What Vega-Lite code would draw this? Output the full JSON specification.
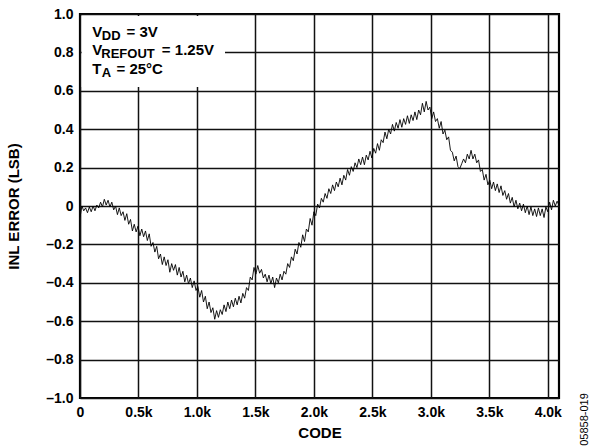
{
  "$schema": "https://vega.github.io/schema/vega-lite/v6.json",
  "width": 479,
  "height": 384,
  "autosize": {"type": "none"},
  "padding": {"left": 80, "top": 14, "right": 34, "bottom": 48},
  "background": "white",
  "config": {
    "view": {"stroke": "#000", "strokeWidth": 2.2},
    "font": "Liberation Sans"
  },
  "datasets": {
    "box": [{"c": 14, "c2": 1240, "v": 0.62, "v2": 0.99}],
    "notes": [
      {"c": 105, "v": 0.880, "t": "V", "k": "m"},
      {"c": 186, "v": 0.865, "t": "DD", "k": "s"},
      {"c": 398, "v": 0.880, "t": "= 3V", "k": "m"},
      {"c": 105, "v": 0.786, "t": "V", "k": "m"},
      {"c": 182, "v": 0.771, "t": "REFOUT", "k": "s"},
      {"c": 700, "v": 0.786, "t": "= 1.25V", "k": "m"},
      {"c": 105, "v": 0.690, "t": "T", "k": "m"},
      {"c": 186, "v": 0.674, "t": "A", "k": "s"},
      {"c": 312, "v": 0.690, "t": "= 25°C", "k": "m"}
    ],
    "ident": [{"c": 4318, "v": -1.112, "t": "05858-019"}],
    "inl": [
      {"c":0,"v":-0.06},{"c":16,"v":0.0},{"c":32,"v":-0.025},{"c":48,"v":-0.01},
      {"c":64,"v":-0.035},{"c":80,"v":-0.005},{"c":96,"v":-0.03},{"c":112,"v":0.0},
      {"c":128,"v":-0.025},{"c":144,"v":0.005},{"c":160,"v":-0.01},{"c":176,"v":0.02},
      {"c":192,"v":-0.005},{"c":208,"v":0.035},{"c":224,"v":0.005},{"c":240,"v":0.03},
      {"c":256,"v":-0.005},{"c":272,"v":0.02},{"c":288,"v":-0.02},{"c":304,"v":0.0},
      {"c":320,"v":-0.045},{"c":336,"v":-0.01},{"c":352,"v":-0.05},{"c":368,"v":-0.03},
      {"c":384,"v":-0.075},{"c":400,"v":-0.04},{"c":416,"v":-0.095},{"c":432,"v":-0.07},
      {"c":448,"v":-0.13},{"c":464,"v":-0.095},{"c":480,"v":-0.135},{"c":496,"v":-0.105},
      {"c":512,"v":-0.155},{"c":528,"v":-0.12},{"c":544,"v":-0.16},{"c":560,"v":-0.13},
      {"c":576,"v":-0.18},{"c":592,"v":-0.145},{"c":608,"v":-0.21},{"c":624,"v":-0.19},
      {"c":640,"v":-0.24},{"c":656,"v":-0.21},{"c":672,"v":-0.275},{"c":688,"v":-0.25},
      {"c":704,"v":-0.305},{"c":720,"v":-0.265},{"c":736,"v":-0.31},{"c":752,"v":-0.28},
      {"c":768,"v":-0.345},{"c":784,"v":-0.3},{"c":800,"v":-0.335},{"c":816,"v":-0.305},
      {"c":832,"v":-0.36},{"c":848,"v":-0.32},{"c":864,"v":-0.37},{"c":880,"v":-0.34},
      {"c":896,"v":-0.395},{"c":912,"v":-0.36},{"c":928,"v":-0.405},{"c":944,"v":-0.375},
      {"c":960,"v":-0.425},{"c":976,"v":-0.39},{"c":992,"v":-0.44},{"c":1008,"v":-0.42},
      {"c":1024,"v":-0.475},{"c":1040,"v":-0.44},{"c":1056,"v":-0.5},{"c":1072,"v":-0.47},
      {"c":1088,"v":-0.535},{"c":1104,"v":-0.5},{"c":1120,"v":-0.555},{"c":1136,"v":-0.53},
      {"c":1152,"v":-0.59},{"c":1168,"v":-0.545},{"c":1184,"v":-0.58},{"c":1200,"v":-0.54},
      {"c":1216,"v":-0.565},{"c":1232,"v":-0.515},{"c":1248,"v":-0.55},{"c":1264,"v":-0.5},
      {"c":1280,"v":-0.535},{"c":1296,"v":-0.49},{"c":1312,"v":-0.525},{"c":1328,"v":-0.48},
      {"c":1344,"v":-0.515},{"c":1360,"v":-0.47},{"c":1376,"v":-0.505},{"c":1392,"v":-0.455},
      {"c":1408,"v":-0.48},{"c":1424,"v":-0.425},{"c":1440,"v":-0.44},{"c":1456,"v":-0.37},
      {"c":1472,"v":-0.385},{"c":1488,"v":-0.32},{"c":1504,"v":-0.355},{"c":1520,"v":-0.31},
      {"c":1536,"v":-0.35},{"c":1552,"v":-0.33},{"c":1568,"v":-0.375},{"c":1584,"v":-0.355},
      {"c":1600,"v":-0.395},{"c":1616,"v":-0.36},{"c":1632,"v":-0.405},{"c":1648,"v":-0.37},
      {"c":1664,"v":-0.425},{"c":1680,"v":-0.375},{"c":1696,"v":-0.4},{"c":1712,"v":-0.355},
      {"c":1728,"v":-0.385},{"c":1744,"v":-0.34},{"c":1760,"v":-0.355},{"c":1776,"v":-0.3},
      {"c":1792,"v":-0.32},{"c":1808,"v":-0.265},{"c":1824,"v":-0.285},{"c":1840,"v":-0.225},
      {"c":1856,"v":-0.25},{"c":1872,"v":-0.19},{"c":1888,"v":-0.215},{"c":1904,"v":-0.15},
      {"c":1920,"v":-0.185},{"c":1936,"v":-0.12},{"c":1952,"v":-0.135},{"c":1968,"v":-0.065},
      {"c":1984,"v":-0.1},{"c":2000,"v":-0.03},{"c":2016,"v":-0.05},{"c":2032,"v":0.01},
      {"c":2048,"v":-0.01},{"c":2064,"v":0.04},{"c":2080,"v":0.02},{"c":2096,"v":0.065},
      {"c":2112,"v":0.04},{"c":2128,"v":0.09},{"c":2144,"v":0.065},{"c":2160,"v":0.11},
      {"c":2176,"v":0.08},{"c":2192,"v":0.125},{"c":2208,"v":0.1},{"c":2224,"v":0.145},
      {"c":2240,"v":0.11},{"c":2256,"v":0.16},{"c":2272,"v":0.135},{"c":2288,"v":0.19},
      {"c":2304,"v":0.16},{"c":2320,"v":0.205},{"c":2336,"v":0.18},{"c":2352,"v":0.225},
      {"c":2368,"v":0.2},{"c":2384,"v":0.245},{"c":2400,"v":0.215},{"c":2416,"v":0.255},
      {"c":2432,"v":0.215},{"c":2448,"v":0.265},{"c":2464,"v":0.24},{"c":2480,"v":0.285},
      {"c":2496,"v":0.25},{"c":2512,"v":0.3},{"c":2528,"v":0.275},{"c":2544,"v":0.325},
      {"c":2560,"v":0.29},{"c":2576,"v":0.345},{"c":2592,"v":0.33},{"c":2608,"v":0.385},
      {"c":2624,"v":0.35},{"c":2640,"v":0.4},{"c":2656,"v":0.375},{"c":2672,"v":0.425},
      {"c":2688,"v":0.39},{"c":2704,"v":0.435},{"c":2720,"v":0.405},{"c":2736,"v":0.45},
      {"c":2752,"v":0.41},{"c":2768,"v":0.455},{"c":2784,"v":0.425},{"c":2800,"v":0.47},
      {"c":2816,"v":0.43},{"c":2832,"v":0.475},{"c":2848,"v":0.445},{"c":2864,"v":0.49},
      {"c":2880,"v":0.45},{"c":2896,"v":0.5},{"c":2912,"v":0.475},{"c":2928,"v":0.535},
      {"c":2944,"v":0.49},{"c":2960,"v":0.545},{"c":2976,"v":0.5},{"c":2992,"v":0.515},
      {"c":3008,"v":0.455},{"c":3024,"v":0.49},{"c":3040,"v":0.44},{"c":3056,"v":0.455},
      {"c":3072,"v":0.405},{"c":3088,"v":0.44},{"c":3104,"v":0.375},{"c":3120,"v":0.395},
      {"c":3136,"v":0.345},{"c":3152,"v":0.36},{"c":3168,"v":0.29},{"c":3184,"v":0.28},
      {"c":3200,"v":0.235},{"c":3216,"v":0.26},{"c":3232,"v":0.205},{"c":3248,"v":0.195},
      {"c":3264,"v":0.22},{"c":3280,"v":0.245},{"c":3296,"v":0.225},{"c":3312,"v":0.27},
      {"c":3328,"v":0.245},{"c":3344,"v":0.29},{"c":3360,"v":0.245},{"c":3376,"v":0.27},
      {"c":3392,"v":0.225},{"c":3408,"v":0.24},{"c":3424,"v":0.18},{"c":3440,"v":0.19},
      {"c":3456,"v":0.135},{"c":3472,"v":0.165},{"c":3488,"v":0.11},{"c":3504,"v":0.135},
      {"c":3520,"v":0.09},{"c":3536,"v":0.125},{"c":3552,"v":0.08},{"c":3568,"v":0.115},
      {"c":3584,"v":0.07},{"c":3600,"v":0.105},{"c":3616,"v":0.055},{"c":3632,"v":0.08},
      {"c":3648,"v":0.035},{"c":3664,"v":0.065},{"c":3680,"v":0.015},{"c":3696,"v":0.045},
      {"c":3712,"v":-0.005},{"c":3728,"v":0.03},{"c":3744,"v":-0.015},{"c":3760,"v":0.015},
      {"c":3776,"v":-0.025},{"c":3792,"v":0.01},{"c":3808,"v":-0.035},{"c":3824,"v":0.0},
      {"c":3840,"v":-0.045},{"c":3856,"v":-0.005},{"c":3872,"v":-0.05},{"c":3888,"v":-0.015},
      {"c":3904,"v":-0.055},{"c":3920,"v":-0.01},{"c":3936,"v":-0.05},{"c":3952,"v":-0.015},
      {"c":3968,"v":-0.06},{"c":3984,"v":-0.005},{"c":4000,"v":-0.03},{"c":4016,"v":0.02},
      {"c":4032,"v":-0.02},{"c":4048,"v":0.03},{"c":4064,"v":0.0},{"c":4080,"v":0.025},
      {"c":4095,"v":0.005}
    ]
  },
  "encoding": {
    "x": {
      "field": "c", "type": "quantitative",
      "scale": {"domain": [0, 4096], "nice": false, "zero": false},
      "axis": {
        "title": "CODE",
        "values": [0, 500, 1000, 1500, 2000, 2500, 3000, 3500, 4000],
        "labelExpr": "datum.value == 0 ? '0' : format(datum.value / 1000, '.1f') + 'k'",
        "grid": true, "gridColor": "#111", "gridWidth": 1.5, "gridOpacity": 1,
        "ticks": false, "domain": false,
        "labelFont": "Liberation Sans", "labelFontWeight": "bold", "labelFontSize": 14, "labelColor": "#000",
        "labelPadding": 7, "labelOverlap": false, "labelFlush": false, "labelBound": false,
        "titleFont": "Liberation Sans", "titleFontWeight": "bold", "titleFontSize": 15, "titleColor": "#000",
        "titlePadding": 6
      }
    },
    "y": {
      "field": "v", "type": "quantitative",
      "scale": {"domain": [-1, 1], "nice": false, "zero": false},
      "axis": {
        "title": "INL ERROR (LSB)",
        "values": [-1, -0.8, -0.6, -0.4, -0.2, 0, 0.2, 0.4, 0.6, 0.8, 1],
        "labelExpr": "datum.value == 0 ? '0' : (datum.value < 0 ? '–' + format(-datum.value, '.1f') : format(datum.value, '.1f'))",
        "grid": true, "gridColor": "#111", "gridWidth": 1.5, "gridOpacity": 1,
        "ticks": false, "domain": false,
        "labelFont": "Liberation Sans", "labelFontWeight": "bold", "labelFontSize": 14, "labelColor": "#000",
        "labelPadding": 7, "labelOverlap": false, "labelFlush": false, "labelBound": false,
        "titleFont": "Liberation Sans", "titleFontWeight": "bold", "titleFontSize": 15, "titleColor": "#000",
        "titlePadding": 24
      }
    }
  },
  "layer": [
    {
      "data": {"name": "box"},
      "mark": {"type": "rect", "fill": "white"},
      "encoding": {
        "x2": {"field": "c2"},
        "y2": {"field": "v2"}
      }
    },
    {
      "data": {"name": "inl"},
      "mark": {"type": "line", "color": "#000", "strokeWidth": 0.9}
    },
    {
      "data": {"name": "notes"},
      "transform": [{"filter": "datum.k == 'm'"}],
      "mark": {"type": "text", "align": "left", "baseline": "alphabetic", "font": "Liberation Sans", "fontWeight": "bold", "fontSize": 15, "color": "#000"},
      "encoding": {"text": {"field": "t"}}
    },
    {
      "data": {"name": "notes"},
      "transform": [{"filter": "datum.k == 's'"}],
      "mark": {"type": "text", "align": "left", "baseline": "alphabetic", "font": "Liberation Sans", "fontWeight": "bold", "fontSize": 13, "color": "#000"},
      "encoding": {"text": {"field": "t"}}
    },
    {
      "data": {"name": "ident"},
      "mark": {"type": "text", "align": "center", "baseline": "middle", "angle": 270, "font": "Liberation Sans", "fontSize": 11, "color": "#000"},
      "encoding": {"text": {"field": "t"}}
    }
  ]
}
